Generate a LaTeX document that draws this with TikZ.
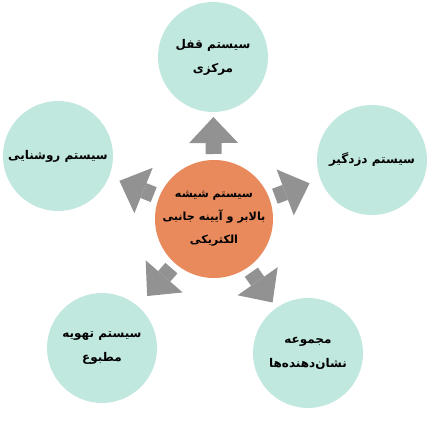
\documentclass[tikz,border=0pt]{standalone}
\usepackage{fontspec}
\newfontfamily\farsi[Script=Arabic]{DejaVu Sans}
\TeXXeTstate=1
\usetikzlibrary{arrows.meta,calc}
\definecolor{partcol}{RGB}{193,232,223}
\definecolor{hubcol}{RGB}{232,138,92}
\definecolor{arrowcol}{RGB}{146,146,146}
\tikzset{
  part/.style={circle, fill=partcol, minimum size=110pt, inner sep=0pt, align=center,
    font=\farsi\bfseries\fontsize{12}{24}\selectfont},
  hub/.style={part, fill=hubcol, minimum size=118pt, font=\farsi\bfseries\fontsize{11.2}{23}\selectfont},
  bigarrow/.style={draw=arrowcol, line width=16pt,
    -{Triangle[length=26pt,width=49pt,line width=0pt,fill=arrowcol]}}
}

\begin{document}
\begin{tikzpicture}[x=1pt,y=1pt]
\useasboundingbox (0,0) rectangle (434,423);
\node[hub] (mid) at (214,204) {\beginR سیستم شیشه\endR\\ \beginR بالابر و آیینه جانبی\endR\\ \beginR الکتریکی\endR};
\node[part] (top) at (213,366) {\beginR سیستم قفل\endR\\ \beginR مرکزی\endR};
\node[part] (left) at (58,267) {\beginR سیستم روشنایی\endR};
\node[part] (right) at (372,263) {\beginR سیستم دزدگیر\endR};
\node[part] (bl) at (102,75) {\beginR سیستم تهویه\endR\\ \beginR مطبوع\endR};
\node[part] (br) at (308,70) {\beginR مجموعه\endR\\ \beginR نشان‌دهنده‌ها\endR};
\foreach \t in {top,right,br,bl,left}
  \draw[bigarrow] ($(mid)!65pt!(\t)$) -- ($(mid)!102pt!(\t)$);
\end{tikzpicture}
\end{document}
